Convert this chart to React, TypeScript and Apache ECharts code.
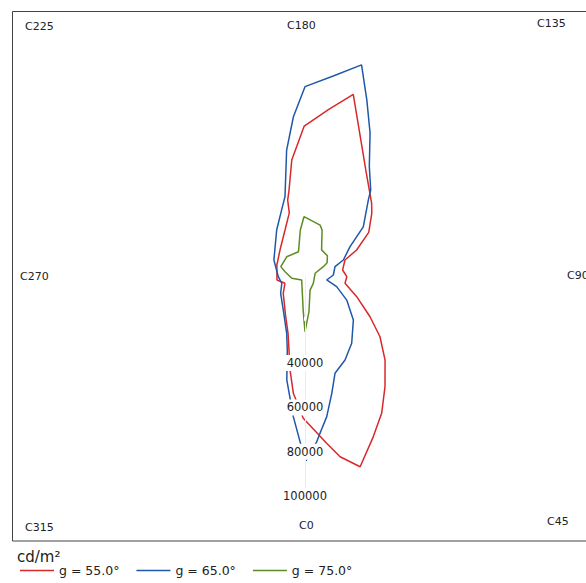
import { useEffect, useRef } from 'react';
import * as echarts from 'echarts';

// C-plane angle (deg) and luminance (cd/m²)
const redAngles = [7.3, 10.9, 16.0, 22.8, 28.9, 35.5, 43.1, 50.3, 57.0, 66.8, 77.6, 87, 96.8, 110, 115.4, 123.5, 132.5, 137, 149.3, 165, 171.8, 180.3, 186.6, 190.7, 193.1, 194.3, 204.2, 225.6, 251.3, 281.1, 293.7, 310.9, 334.3, 343.9, 348, 351.1, 354.4, 359.3];
const redValues = [76800, 83800, 90300, 79500, 71600, 62200, 52900, 44000, 35000, 25400, 18500, 18900, 17100, 19200, 25800, 34500, 40900, 44100, 54000, 84200, 75300, 67000, 52000, 38800, 34500, 28700, 22000, 15800, 13400, 12900, 9900, 13000, 20300, 27600, 34800, 43600, 53900, 64900];

const blueAngles = [0.3, 4.0, 5.4, 8.7, 12.7, 16.9, 25.1, 34.2, 46.7, 58.5, 69, 75.8, 89, 104.6, 110.7, 121.7, 129.3, 139.6, 142.1, 149.2, 155.3, 160.5, 164.9, 171.9, 180, 184.2, 188.4, 194.4, 199.9, 212.5, 244.9, 274.7, 290.7, 307.7, 328.6, 342.7, 346.8, 350.2, 355.3, 358.3];
const blueValues = [84100, 75700, 72000, 64900, 55000, 46600, 42600, 37500, 30000, 22100, 15300, 10100, 12800, 14000, 18500, 23900, 34000, 44100, 48300, 56700, 70300, 83600, 98000, 90500, 84800, 71400, 56800, 36300, 31000, 23800, 15500, 12100, 11200, 13900, 18800, 27800, 35000, 48300, 64400, 75500];

const greenAngles = [0, 6, 18, 43, 97, 113, 118, 130, 146, 159, 163, 181, 186, 196, 226, 252, 262, 286, 329, 357];
const greenValues = [25800, 17000, 7400, 5500, 4600, 9000, 11300, 13200, 13400, 21500, 23300, 26100, 20200, 10700, 11500, 11500, 9100, 6200, 2900, 16000];

const seriesNames = ['g = 55.0°', 'g = 65.0°', 'g = 75.0°'];
const seriesColors = ['#d9282a', '#1f58a8', '#5c8c22'];

const radiusTicks = [40000, 60000, 80000, 100000];
const unitLabel = 'cd/m²';

const cPlaneLabels = ['C225', 'C180', 'C135', 'C270', 'C90', 'C315', 'C0', 'C45'];
// layout only (label anchor positions on the frame)
const cPlaneLayout: [number, number][] = [
  [25, 26], [287, 25], [537, 23], [20, 276], [567, 275], [25, 527], [299, 525], [547, 521],
];

const FONT = 'DejaVu Sans';

function toData(angles: number[], values: number[]) {
  const d = angles.map((a, i) => [values[i], a]);
  d.push([values[0], angles[0]]);
  return d;
}

export default function App() {
  const ref = useRef<HTMLDivElement>(null);
  useEffect(() => {
    document.body.style.margin = '0';
    const chart = echarts.init(ref.current!, null, { renderer: 'svg' });
    const all = [
      [redAngles, redValues],
      [blueAngles, blueValues],
      [greenAngles, greenValues],
    ];
    chart.setOption({
      animation: false,
      backgroundColor: '#fff',
      title: {
        text: unitLabel,
        left: 17,
        top: 549,
        padding: 0,
        textStyle: { fontFamily: FONT, fontSize: 15, fontWeight: 'normal', color: '#222' },
      },
      legend: {
        left: 20,
        top: 564,
        padding: 0,
        icon: 'rect',
        itemWidth: 34,
        itemHeight: 1.5,
        itemGap: 17,
        textStyle: { fontFamily: FONT, fontSize: 12.5, color: '#222' },
        data: seriesNames,
      },
      polar: { center: [305, 274.5], radius: 221.5 },
      angleAxis: {
        type: 'value',
        min: 0,
        max: 360,
        startAngle: 270,
        clockwise: false,
        axisLine: { show: false },
        axisTick: { show: false },
        axisLabel: { show: false },
        splitLine: { show: false },
      },
      radiusAxis: {
        type: 'value',
        min: 0,
        max: 100000,
        interval: 20000,
        z: 10,
        axisLine: { show: true, lineStyle: { color: '#ececec', width: 1 } },
        axisTick: { show: false },
        splitLine: { show: false },
        axisLabel: {
          margin: 0,
          align: 'center',
          verticalAlign: 'middle',
          backgroundColor: '#fff',
          padding: [2, 1],
          fontFamily: FONT,
          fontSize: 11.5,
          color: '#222',
          formatter: (v: number) => (radiusTicks.includes(v) ? String(v) : ''),
        },
      },
      graphic: [
        {
          type: 'rect',
          shape: { x: 12.5, y: 11.5, width: 600, height: 529.5 },
          style: { fill: 'none', stroke: '#444', lineWidth: 1 },
          silent: true,
        },
        ...cPlaneLabels.map((t, i) => ({
          type: 'text',
          x: cPlaneLayout[i][0],
          y: cPlaneLayout[i][1],
          style: {
            text: t,
            fontFamily: FONT,
            fontSize: 11,
            fill: '#222',
            textAlign: 'left',
            textVerticalAlign: 'middle',
          },
          silent: true,
        })),
      ],
      series: all.map(([a, v], i) => ({
        name: seriesNames[i],
        type: 'line',
        coordinateSystem: 'polar',
        symbol: 'none',
        smooth: false,
        color: seriesColors[i],
        itemStyle: { color: seriesColors[i] },
        lineStyle: { color: seriesColors[i], width: 1.5 },
        data: toData(a as number[], v as number[]),
      })),
    });
    return () => chart.dispose();
  }, []);
  return <div ref={ref} style={{ width: 586, height: 583 }} />;
}
